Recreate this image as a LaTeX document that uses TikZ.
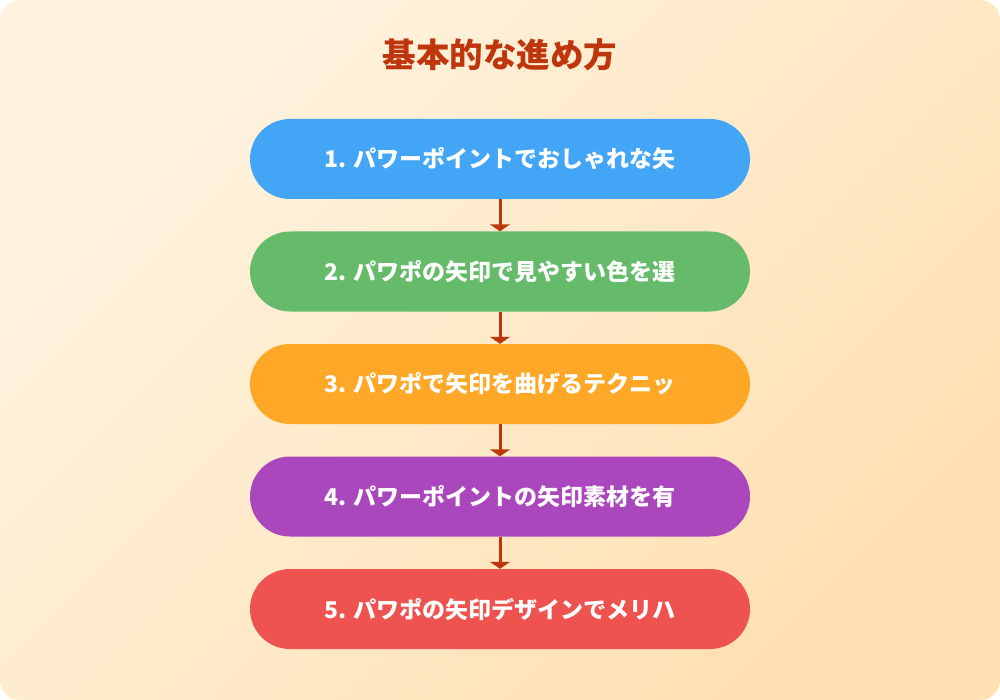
\documentclass[tikz,border=0pt]{standalone}
\usepackage{fontspec}
\newfontfamily\jp{Noto Sans CJK JP}
\usepackage{tikz}
\usetikzlibrary{arrows.meta}

\definecolor{bgA}{HTML}{FFF3E0}
\definecolor{bgB}{HTML}{FFE0B2}
\definecolor{titlered}{HTML}{BF360C}
\definecolor{c1}{HTML}{42A5F5}
\definecolor{c2}{HTML}{66BB6A}
\definecolor{c3}{HTML}{FFA726}
\definecolor{c4}{HTML}{AB47BC}
\definecolor{c5}{HTML}{EF5350}

\begin{document}
\begin{tikzpicture}[x=1pt, y=-1pt,
                stage/.style = {rectangle, rounded corners=40pt, minimum width=500pt, minimum height=80pt, inner sep=0pt, text=white, font=\jp\bfseries\fontsize{23}{28}\selectfont},
                flow/.style = {draw=titlered, line width=3pt, -{Triangle[width=20pt, length=7pt]}}]
                \useasboundingbox (0, 0) rectangle (1000, 700);
                \shade[rounded corners=20pt, top color=bgA, bottom color=bgB, shading angle=45] (0, 0) rectangle (1000, 700);

                \node[text=titlered, font=\jp\bfseries\fontsize{33.5}{40}\selectfont] at (500, 55) (T) {基本的な進め方};

                \node[stage, fill=c1] at (500, 159) (S1) {1. パワーポイントでおしゃれな矢};
                \node[stage, fill=c2] at (500, 271.5) (S2) {2. パワポの矢印で見やすい色を選};
                \node[stage, fill=c3] at (500, 384) (S3) {3. パワポで矢印を曲げるテクニッ};
                \node[stage, fill=c4] at (500, 496.5) (S4) {4. パワーポイントの矢印素材を有};
                \node[stage, fill=c5] at (500, 609) (S5) {5. パワポの矢印デザインでメリハ};

                \draw[flow] (S1) -- (S2);
                \draw[flow] (S2) -- (S3);
                \draw[flow] (S3) -- (S4);
                \draw[flow] (S4) -- (S5);
            \end{tikzpicture}
\end{document}
